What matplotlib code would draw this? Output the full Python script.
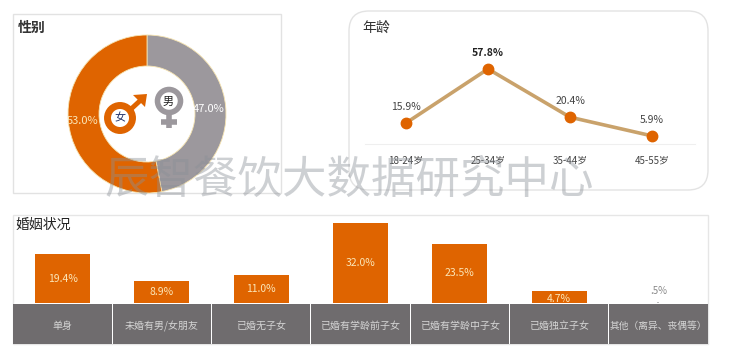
import matplotlib
matplotlib.use("Agg")
import matplotlib.pyplot as plt
from matplotlib.patches import Circle, FancyBboxPatch, Rectangle, Polygon

plt.rcParams['font.family'] = ['Noto Sans CJK SC', 'DejaVu Sans']

# data
gender_labels = ["男", "女"]
gender_values = [47.0, 53.0]
age_labels = ["18-24岁", "25-34岁", "35-44岁", "45-55岁"]
age_values = [15.9, 57.8, 20.4, 5.9]
marriage_labels = ["单身", "未婚有男/女朋友", "已婚无子女", "已婚有学龄前子女",
                   "已婚有学龄中子女", "已婚独立子女", "其他（离异、丧偶等）"]
marriage_values = [19.4, 8.9, 11.0, 32.0, 23.5, 4.7, 0.5]
marriage_texts = ["19.4%", "8.9%", "11.0%", "32.0%", "23.5%", "4.7%", ".5%"]

ORANGE = "#DF6400"
GREY = "#9C989D"
CELL = "#6F6C6E"
W, H = 750, 353

fig = plt.figure(figsize=(W / 100, H / 100), dpi=100, facecolor="white")


def px_axes(x, y, w, h):
    ax = fig.add_axes([x / W, 1 - (y + h) / H, w / W, h / H])
    ax.axis("off")
    return ax


def layer():
    ax = px_axes(0, 0, W, H)
    ax.set_xlim(0, W)
    ax.set_ylim(H, 0)
    return ax


# panels
bg = layer()
bg.add_patch(Rectangle((13, 14), 268, 179, fc="white", ec="#E2E2E2", lw=1))
bg.add_patch(FancyBboxPatch((349, 11), 359, 179, boxstyle="round,pad=0,rounding_size=20",
                            fc="white", ec="#E3E3E3", lw=1))
bg.add_patch(Rectangle((13, 215), 695, 129, fc="white", ec="#E6E6E6", lw=1))
bg.plot([365, 695], [143.5, 143.5], color="#EFEFEF", lw=0.8)

bg.text(18, 28, "性别", fontsize=10, fontweight="bold", color="#333333", va="center")
bg.text(362, 28, "年龄", fontsize=10, fontweight="medium", color="#333333", va="center")
bg.text(16, 225, "婚姻状况", fontsize=10, fontweight="medium", color="#222222", va="center")

# donut
ax_pie = px_axes(147 - 80, 114 - 80, 160, 160)
ax_pie.pie(gender_values, startangle=90, counterclock=False, colors=[GREY, ORANGE],
           radius=79 / 80, wedgeprops=dict(width=31 / 80, edgecolor="#F5E3B0", linewidth=0.6))
ax_pie.set_xlim(-1, 1)
ax_pie.set_ylim(-1, 1)

# gender symbols and donut labels
sym = layer()
sym.text(83, 121, "53.0%", color="#FBE6B8", fontsize=8, ha="center", va="center")
sym.text(209, 109, "47.0%", color="white", fontsize=8, ha="center", va="center")
sym.plot([130, 143], [110, 98], color=ORANGE, lw=3.5, solid_capstyle="butt")
sym.add_patch(Polygon([[133, 95], [147, 94], [145, 107]], fc=ORANGE, ec="none"))
sym.add_patch(Circle((120, 118), 12.5, fc="white", ec=ORANGE, lw=5))
sym.text(120, 118, gender_labels[1], color="#24346A", fontsize=8, ha="center", va="center")
sym.plot([169, 169], [114, 128], color=GREY, lw=4, solid_capstyle="butt")
sym.plot([161, 177], [122, 122], color=GREY, lw=4, solid_capstyle="butt")
sym.add_patch(Circle((169, 101), 11.5, fc="white", ec=GREY, lw=4))
sym.text(168, 102, gender_labels[0], color="#222222", fontsize=8, ha="center", va="center")

# age line
ax_line = px_axes(365, 60, 328, 83.5)
ax_line.set_xlim(-0.5, 3.5)
ax_line.set_ylim(0, 83.5 / 1.29)
ax_line.plot(range(4), age_values, color="#C9A26B", lw=2.6, marker="o", ms=7.5,
             mfc=ORANGE, mec=ORANGE, clip_on=False)
for i, v in enumerate(age_values):
    ax_line.annotate(f"{v}%", (i, v), xytext=(0, 11.5), textcoords="offset points",
                     ha="center", va="center", fontsize=7.5,
                     color="#222222" if i == 1 else "#444444",
                     fontweight="bold" if i == 1 else "normal")
for i, lab in enumerate(age_labels):
    ax_line.annotate(lab, (i, 0), xytext=(0, -12), textcoords="offset points",
                     fontsize=7, color="#444444", ha="center", va="center",
                     annotation_clip=False)

# marriage bars
ax_bar = px_axes(13, 222.5, 695, 80.5)
ax_bar.set_xlim(-0.5, 6.5)
ax_bar.set_ylim(0, 32)
ax_bar.bar(range(7), marriage_values, width=[0.555] * 6 + [0.02],
           color=[ORANGE] * 6 + ["#BBBBBB"])
for i, v in enumerate(marriage_values):
    if i == 6:
        ax_bar.text(i, 4.6, marriage_texts[i], color="#888888", fontsize=7,
                    ha="center", va="center")
    else:
        y = v / 2 if i != 5 else v / 2 - 0.6
        ax_bar.text(i, y, marriage_texts[i], color="#FBE6B8", fontsize=7.5,
                    ha="center", va="center")

# category cells
ax_cell = px_axes(13, 304, 695, 40)
ax_cell.set_xlim(-0.5, 6.5)
ax_cell.set_ylim(0, 1)
ax_cell.bar(range(7), [1] * 7, width=0.99, color=CELL)
for i, lab in enumerate(marriage_labels):
    ax_cell.text(i, 0.46, lab, color="#D4D4D4", fontsize=7.2 if i < 6 else 7,
                 ha="center", va="center")

# watermark
top = layer()
top.text(349, 180, "辰智餐饮大数据研究中心", fontsize=32, color="#8A8F96", alpha=0.42,
         ha="center", va="center")

fig.savefig("out.png", dpi=100)
